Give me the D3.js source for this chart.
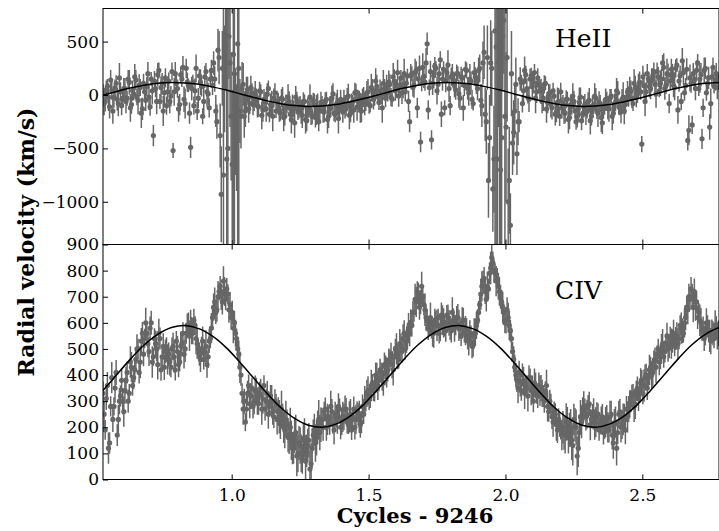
<!DOCTYPE html>
<html><head><meta charset="utf-8">
<script src="https://cdn.jsdelivr.net/npm/d3@7"></script>
<style>body{margin:0;background:#fff}svg{display:block}</style>
</head><body><svg id="c" width="719" height="531"></svg>
<script>
// Observation set A
const cyclesA = [
0.530,0.538,0.546,0.554,0.562,0.570,0.578,0.586,0.594,0.602,
0.610,0.618,0.626,0.634,0.642,0.650,0.658,0.666,0.674,0.682,
0.690,0.698,0.706,0.714,0.722,0.730,0.738,0.746,0.754,0.762,
0.770,0.778,0.786,0.794,0.802,0.810,0.818,0.826,0.834,0.842,
0.850,0.858,0.866,0.874,0.882,0.890,0.898,0.906,0.914,0.922,
0.930,0.938,0.946,0.954,0.962,0.970,0.978,0.986,0.994,1.002,
1.010,1.018,1.026,1.034,1.042,1.050,1.058,1.066,1.074,1.082,
1.090,1.098,1.106,1.114,1.122,1.130,1.138,1.146,1.154,1.162,
1.170,1.178,1.186,1.194,1.202,1.210,1.218,1.226,1.234,1.242,
1.250,1.258,1.266,1.274,1.282,1.290,1.298,1.306,1.314,1.322,
1.330,1.338,1.346,1.354,1.362,1.370,1.378,1.386,1.394,1.402,
1.410,1.418,1.426,1.434,1.442,1.450,1.458,1.466,1.474,1.482,
1.490,1.498,1.506,1.514,1.522,1.530,1.538,1.546,1.554,1.562,
1.570,1.578,1.586,1.594,1.602,1.610,1.618,1.626,1.634,1.642,
1.650,1.658,1.666,1.674,1.682,1.690,1.698,1.706,1.714,1.722,
1.730,1.738,1.746,1.754,1.762,1.770,1.778,1.786,1.794,1.802,
1.810,1.818,1.826,1.834,1.842,1.850,1.858,1.866,1.874,1.882,
1.890,1.898,1.906,1.914,1.922,1.930,1.938,1.946,1.954,1.962,
1.970,1.978,1.986,1.994,2.002,2.010,2.018,2.026,2.034,2.042,
2.050,2.058,2.066,2.074,2.082,2.090,2.098,2.106,2.114,2.122,
2.130,2.138,2.146,2.154,2.162,2.170,2.178,2.186,2.194,2.202,
2.210,2.218,2.226,2.234,2.242,2.250,2.258,2.266,2.274,2.282,
2.290,2.298,2.306,2.314,2.322,2.330,2.338,2.346,2.354,2.362,
2.370,2.378,2.386,2.394,2.402,2.410,2.418,2.426,2.434,2.442,
2.450,2.458,2.466,2.474,2.482,2.490,2.498,2.506,2.514,2.522,
2.530,2.538,2.546,2.554,2.562,2.570,2.578,2.586,2.594,2.602,
2.610,2.618,2.626,2.634,2.642,2.650,2.658,2.666,2.674,2.682,
2.690,2.698,2.706,2.714,2.722,2.730,2.738,2.746,2.754,2.762,
2.770,2.778];

const heIIA = [
20,-60,80,-110,40,-20,110,-80,30,-40,
60,-30,120,-90,10,140,-50,70,-130,30,
80,-20,150,-380,60,190,-60,110,20,-100,
130,-10,-520,200,60,-90,150,-40,250,90,
-490,120,40,-150,180,80,-60,220,10,150,
90,150,-250,350,-930,-750,450,-500,300,-650,
200,-400,250,-200,100,-150,50,-80,20,-40,
-20,-110,30,-140,-60,10,-180,-80,-30,-150,
-80,-170,-40,-200,-110,-60,-230,-130,-20,-160,
-100,-190,-60,-240,-130,-170,-50,-210,-110,-150,
-90,-160,-40,-200,-120,10,-180,-70,-140,-100,
-50,-130,-10,-170,-60,20,-110,-40,-150,0,
-60,30,-100,50,-20,80,-70,10,110,-30,
20,100,-40,130,60,-10,160,90,30,180,
-250,200,90,230,150,-440,260,120,480,70,
-420,180,250,100,330,150,-120,210,60,170,
140,50,200,-30,160,90,230,20,130,-80,
170,60,250,-100,400,-250,-800,300,-880,600,
-600,200,-400,700,-300,-1000,-1220,-450,-150,-550,
-250,120,40,190,-20,150,80,210,30,100,
60,-30,110,-70,20,-120,-10,-160,-60,30,
-80,-170,-40,-210,-100,-60,-250,-130,-20,-180,
-90,-150,-50,-200,-120,-30,-170,-80,-260,-110,
-60,-130,-10,-170,-70,20,-120,-40,-150,-20,
-30,40,-80,70,10,120,-460,90,30,150,
60,180,100,220,40,150,260,90,190,130,
200,70,280,130,-60,210,90,-425,160,-280,
140,230,60,190,-120,250,110,-300,170,80,
200,120];

const heIIErrA = [
80,95,70,110,85,100,75,120,90,65,
100,70,115,85,60,95,130,80,105,75,
90,120,65,100,80,110,70,95,125,85,
80,95,70,110,85,100,75,120,90,65,
100,70,115,85,60,95,130,80,105,75,
90,120,160,250,450,2200,400,1900,600,700,
1800,500,1900,300,200,150,120,100,90,110,
80,95,70,110,85,100,75,120,90,65,
100,70,115,85,60,95,130,80,105,75,
90,120,65,100,80,110,70,95,125,85,
80,95,70,110,85,100,75,120,90,65,
100,70,115,85,60,95,130,80,105,75,
90,120,65,100,80,110,70,95,125,85,
80,95,70,110,85,100,75,120,90,65,
100,70,115,85,60,95,130,80,105,75,
90,120,65,100,80,110,70,95,125,85,
80,95,70,110,85,100,75,120,90,65,
90,110,130,200,250,300,350,400,400,2200,
2000,1800,2000,500,700,500,300,300,250,200,
100,70,115,85,60,95,130,80,105,75,
90,120,65,100,80,110,70,95,125,85,
80,95,70,110,85,100,75,120,90,65,
100,70,115,85,60,95,130,80,105,75,
90,120,65,100,80,110,70,95,125,85,
80,95,70,110,85,100,75,120,90,65,
100,70,115,85,60,95,130,80,105,75,
90,120,65,100,80,110,70,95,125,85,
80,95,70,110,85,100,75,120,90,65,
100,70];

const civA = [
330,190,360,140,390,280,410,230,320,300,
340,410,330,430,390,460,500,450,560,540,
560,490,600,470,520,440,540,470,430,500,
480,430,510,420,490,450,520,480,560,590,
600,560,590,520,480,500,460,510,470,540,
620,680,650,720,700,760,690,710,670,640,
600,540,480,400,270,220,330,290,350,300,
340,290,350,310,270,330,280,300,240,290,
260,220,240,190,210,160,150,120,180,100,
130,80,160,110,150,60,170,140,200,180,
230,260,200,240,280,210,250,230,270,220,
240,270,210,250,230,200,260,240,220,250,
300,340,320,370,350,390,380,410,370,430,
420,460,440,470,500,460,510,540,500,550,
560,590,640,680,710,680,700,650,610,590,
580,560,600,620,580,610,590,630,600,570,
610,590,620,580,600,560,570,530,550,520,
560,610,670,740,770,690,730,810,830,790,
770,720,680,640,610,620,570,490,430,380,
410,340,380,360,320,390,350,370,330,360,
350,320,340,280,300,240,260,210,230,190,
200,170,220,190,150,230,200,120,240,260,
270,250,290,230,260,220,250,210,240,200,
230,190,250,140,220,180,260,210,240,270,
270,300,330,290,350,340,380,360,400,390,
430,410,460,480,450,500,470,520,500,540,
530,510,550,540,580,560,620,650,690,700,
720,680,640,600,580,560,590,550,570,540,
580,560];

const civErrA = [
45,38,52,41,60,35,48,55,40,50,
50,42,36,58,44,47,39,62,43,37,
40,55,46,34,51,57,42,38,49,45,
45,38,52,41,60,35,48,55,40,50,
50,42,36,58,44,47,39,62,43,37,
40,55,46,34,51,57,42,38,49,45,
45,38,52,41,60,35,48,55,40,50,
50,42,36,58,44,47,39,62,43,37,
55,65,50,70,58,62,75,60,68,72,
70,58,75,62,66,80,60,72,64,68,
45,38,52,41,60,35,48,55,40,50,
50,42,36,58,44,47,39,62,43,37,
40,55,46,34,51,57,42,38,49,45,
45,38,52,41,60,35,48,55,40,50,
50,42,36,58,44,47,39,62,43,37,
40,55,46,34,51,57,42,38,49,45,
45,38,52,41,60,35,48,55,40,50,
50,42,36,58,44,47,39,62,43,37,
40,55,46,34,51,57,42,38,49,45,
45,38,52,41,60,35,48,55,40,50,
50,42,36,58,44,47,39,62,43,37,
62,70,58,66,75,60,68,72,64,55,
40,55,46,34,51,57,42,38,49,45,
55,48,52,61,60,45,48,55,50,50,
50,42,36,58,44,47,39,62,43,37,
40,55,46,34,51,57,42,38,49,45,
45,38,52,41,60,35,48,55,40,50,
50,42,36,58,44,47,39,62,43,37,
45,50];

// Observation set B
const cyclesB = [
0.534,0.542,0.550,0.558,0.566,0.574,0.582,0.590,0.598,0.606,
0.614,0.622,0.630,0.638,0.646,0.654,0.662,0.670,0.678,0.686,
0.694,0.702,0.710,0.718,0.726,0.734,0.742,0.750,0.758,0.766,
0.774,0.782,0.790,0.798,0.806,0.814,0.822,0.830,0.838,0.846,
0.854,0.862,0.870,0.878,0.886,0.894,0.902,0.910,0.918,0.926,
0.934,0.942,0.950,0.958,0.966,0.974,0.982,0.990,0.998,1.006,
1.014,1.022,1.030,1.038,1.046,1.054,1.062,1.070,1.078,1.086,
1.094,1.102,1.110,1.118,1.126,1.134,1.142,1.150,1.158,1.166,
1.174,1.182,1.190,1.198,1.206,1.214,1.222,1.230,1.238,1.246,
1.254,1.262,1.270,1.278,1.286,1.294,1.302,1.310,1.318,1.326,
1.334,1.342,1.350,1.358,1.366,1.374,1.382,1.390,1.398,1.406,
1.414,1.422,1.430,1.438,1.446,1.454,1.462,1.470,1.478,1.486,
1.494,1.502,1.510,1.518,1.526,1.534,1.542,1.550,1.558,1.566,
1.574,1.582,1.590,1.598,1.606,1.614,1.622,1.630,1.638,1.646,
1.654,1.662,1.670,1.678,1.686,1.694,1.702,1.710,1.718,1.726,
1.734,1.742,1.750,1.758,1.766,1.774,1.782,1.790,1.798,1.806,
1.814,1.822,1.830,1.838,1.846,1.854,1.862,1.870,1.878,1.886,
1.894,1.902,1.910,1.918,1.926,1.934,1.942,1.950,1.958,1.966,
1.974,1.982,1.990,1.998,2.006,2.014,2.022,2.030,2.038,2.046,
2.054,2.062,2.070,2.078,2.086,2.094,2.102,2.110,2.118,2.126,
2.134,2.142,2.150,2.158,2.166,2.174,2.182,2.190,2.198,2.206,
2.214,2.222,2.230,2.238,2.246,2.254,2.262,2.270,2.278,2.286,
2.294,2.302,2.310,2.318,2.326,2.334,2.342,2.350,2.358,2.366,
2.374,2.382,2.390,2.398,2.406,2.414,2.422,2.430,2.438,2.446,
2.454,2.462,2.470,2.478,2.486,2.494,2.502,2.510,2.518,2.526,
2.534,2.542,2.550,2.558,2.566,2.574,2.582,2.590,2.598,2.606,
2.614,2.622,2.630,2.638,2.646,2.654,2.662,2.670,2.678,2.686,
2.694,2.702,2.710,2.718,2.726,2.734,2.742,2.750,2.758,2.766,
2.774];

const heIIB = [
-80,50,-20,140,-150,70,-40,160,-100,60,
-60,150,-120,40,170,-20,90,-170,110,-50,
200,-110,40,130,-60,230,70,-150,160,30,
-60,220,30,110,-130,190,260,-80,120,-170,
60,-100,250,-30,120,-200,170,30,-120,230,
300,-150,420,-380,250,150,-600,550,-200,380,
-250,480,-150,60,-200,20,-130,70,-90,10,
-100,40,-190,-40,-130,60,-90,-200,20,-60,
-140,-30,-210,-90,-20,-180,-100,-260,-60,-120,
-160,-60,-230,-120,-20,-200,-90,-140,-250,-70,
-150,-60,-230,-110,-30,-170,-90,-220,-40,-160,
-110,-20,-190,-80,-140,30,-60,-120,-30,-90,
20,-90,70,-40,130,-10,40,-120,60,90,
120,-20,170,40,210,90,20,200,110,-60,
180,70,210,-120,250,110,170,300,-140,220,
110,270,40,200,-180,240,130,280,-100,190,
90,200,10,170,-120,240,60,150,-40,210,
110,230,-50,300,-180,350,-400,250,-600,450,
300,-700,550,-200,350,-800,200,-350,100,-250,
150,-80,230,60,-40,180,120,-30,160,40,
-60,100,-130,10,-90,40,-180,-70,-200,-120,
-160,-40,-230,-90,-10,-150,-200,-70,-240,-110,
-170,-60,-240,-100,-10,-150,-70,-210,-130,-40,
-120,-30,-200,-80,40,-110,-160,-20,-90,30,
60,-40,110,-20,80,30,170,-60,200,80,
140,220,10,170,110,300,60,200,-80,240,
90,250,-140,180,320,20,240,-330,110,200,
60,300,150,-410,230,20,160,-80,260,140,
70];

const heIIErrB = [
110,85,130,95,120,75,105,140,90,100,
110,85,130,95,120,75,105,140,90,100,
110,85,130,95,120,75,105,140,90,100,
110,85,130,95,120,75,105,140,90,100,
110,85,130,95,120,75,105,140,90,100,
110,150,200,300,350,500,2100,400,600,1900,
500,2000,300,250,200,150,130,110,100,120,
110,85,130,95,120,75,105,140,90,100,
110,85,130,95,120,75,105,140,90,100,
110,85,130,95,120,75,105,140,90,100,
110,85,130,95,120,75,105,140,90,100,
110,85,130,95,120,75,105,140,90,100,
110,85,130,95,120,75,105,140,90,100,
110,85,130,95,120,75,105,140,90,100,
110,85,130,95,120,75,105,140,90,100,
110,85,130,95,120,75,105,140,90,100,
110,85,130,95,120,75,105,140,90,100,
100,120,150,200,250,300,400,350,500,2100,
600,2000,500,1900,600,500,400,300,250,220,
110,85,130,95,120,75,105,140,90,100,
110,85,130,95,120,75,105,140,90,100,
110,85,130,95,120,75,105,140,90,100,
110,85,130,95,120,75,105,140,90,100,
110,85,130,95,120,75,105,140,90,100,
110,85,130,95,120,75,105,140,90,100,
110,85,130,95,120,75,105,140,90,100,
110,85,130,95,120,75,105,140,90,100,
110,85,130,95,120,75,105,140,90,100,
110];

const civB = [
250,310,120,280,230,350,170,300,380,260,
380,300,450,360,420,500,410,530,480,600,
520,580,450,540,500,560,420,510,490,460,
450,500,470,530,440,510,560,500,590,550,
570,610,540,500,460,530,490,440,530,580,
660,640,700,740,680,720,730,650,620,580,
560,500,430,330,300,270,360,320,280,340,
300,330,270,360,300,250,320,260,300,230,
240,270,200,230,170,200,120,170,90,140,
100,150,70,130,40,120,190,160,230,210,
200,270,230,210,260,190,240,280,200,240,
270,220,240,190,270,230,250,210,280,300,
330,310,360,340,400,360,420,390,440,410,
450,480,420,500,470,520,490,560,530,580,
600,640,690,720,660,740,670,620,580,620,
560,610,590,560,630,600,570,620,580,640,
580,620,590,550,610,570,540,560,510,560,
590,640,710,760,720,740,790,850,800,760,
740,700,660,600,650,590,540,460,400,350,
370,400,330,350,390,340,300,360,320,340,
330,300,360,260,280,220,250,190,210,170,
180,220,160,200,130,210,90,180,220,280,
240,280,210,250,200,240,190,230,180,220,
200,240,170,210,120,250,200,230,190,240,
290,320,280,340,310,370,330,390,350,420,
400,450,430,500,470,520,490,550,510,520,
560,540,520,590,570,600,660,700,730,660,
660,620,610,570,540,600,570,530,560,590,
550];

const civErrB = [
52,44,60,39,48,56,42,50,46,58,
52,44,60,39,48,56,42,50,46,58,
52,44,60,39,48,56,42,50,46,58,
52,44,60,39,48,56,42,50,46,58,
52,44,60,39,48,56,42,50,46,58,
52,44,60,39,48,56,42,50,46,58,
52,44,60,39,48,56,42,50,46,58,
52,44,60,39,48,56,42,50,46,58,
64,70,60,72,66,75,62,68,78,65,
72,66,80,64,70,76,62,68,74,66,
52,44,60,39,48,56,42,50,46,58,
52,44,60,39,48,56,42,50,46,58,
52,44,60,39,48,56,42,50,46,58,
52,44,60,39,48,56,42,50,46,58,
52,44,60,39,48,56,42,50,46,58,
52,44,60,39,48,56,42,50,46,58,
52,44,60,39,48,56,42,50,46,58,
52,44,60,39,48,56,42,50,46,58,
52,44,60,39,48,56,42,50,46,58,
52,44,60,39,48,56,42,50,46,58,
52,44,60,39,48,56,42,50,46,58,
66,72,60,70,76,64,74,68,62,58,
52,44,60,39,48,56,42,50,46,58,
58,62,55,60,66,52,58,61,55,60,
52,44,60,39,48,56,42,50,46,58,
52,44,60,39,48,56,42,50,46,58,
52,44,60,39,48,56,42,50,46,58,
52,44,60,39,48,56,42,50,46,58,
52];

// Orbital fit curves
const modelCycles = [0.53,0.58,0.63,0.68,0.73,0.78,0.83,0.88,0.93,0.98,1.03,1.08,1.13,1.18,1.23,1.28,1.33,1.38,1.43,1.48,1.53,1.58,1.63,1.68,1.73,1.78,1.83,1.88,1.93,1.98,2.03,2.08,2.13,2.18,2.23,2.28,2.33,2.38,2.43,2.48,2.53,2.58,2.63,2.68,2.73,2.78];
const heIIModel = [-2,33,65,91,109,117,113,100,76,46,12,-23,-55,-81,-99,-107,-103,-90,-66,-36,
-2,33,65,91,109,117,113,100,76,46,12,-23,-55,-81,-99,-107,-103,-90,-66,-36,
-2,33,65,91,109,117];
const civModel = [341,401,461,515,556,582,590,578,549,505,449,389,329,275,234,208,200,212,241,285,
341,401,461,515,556,582,590,578,549,505,449,389,329,275,234,208,200,212,241,285,
341,401,461,515,556,582];

const xTicks = [1.0,1.5,2.0,2.5];
const heIITicks = [-1000,-500,0,500];
const civTicks = [0,100,200,300,400,500,600,700,800,900];
const lineNames = ["HeII","CIV"];

const L=103, R=719, T=8.5, M=244.5, B=479.5;
const svg = d3.select("#c");
const x = d3.scaleLinear().domain([0.53,2.78]).range([L,R]);
const yTop = d3.scaleLinear().domain([-1400,810]).range([M,T]);
const yBot = d3.scaleLinear().domain([0,900]).range([B,M]);
const FONT = "'DejaVu Serif', serif";
const PT = "#666666";

function panel(id, y, sets, model, ticks, name, nameY, top, bottom, showX) {
  svg.append("defs").append("clipPath").attr("id", id).append("rect")
    .attr("x", L).attr("y", top).attr("width", R - L).attr("height", bottom - top);
  const data = [];
  sets.forEach(([cs, vs, es]) => cs.forEach((c, i) => data.push({c, v: vs[i], e: es[i]})));
  data.sort((a, b) => a.c - b.c);
  const g = svg.append("g").attr("clip-path", `url(#${id})`);
  g.selectAll("line.eb").data(data).join("line").attr("class","eb")
    .attr("x1", d => x(d.c)).attr("x2", d => x(d.c))
    .attr("y1", d => y(d.v - d.e)).attr("y2", d => y(d.v + d.e))
    .attr("stroke", PT).attr("stroke-width", 1.5);
  g.selectAll("circle").data(data).join("circle")
    .attr("cx", d => x(d.c)).attr("cy", d => y(d.v)).attr("r", 2.6)
    .attr("fill", PT);
  const md = modelCycles.map((c, i) => [c, model[i]]);
  g.append("path").datum(md)
    .attr("d", d3.line().x(d => x(d[0])).y(d => y(d[1])).curve(d3.curveCatmullRom))
    .attr("fill", "none").attr("stroke", "#000").attr("stroke-width", 1.5);

  svg.append("rect").attr("x", L).attr("y", top).attr("width", R - L).attr("height", bottom - top)
    .attr("fill", "none").attr("stroke", "#000").attr("stroke-width", 1);

  const ya = svg.append("g").attr("transform", `translate(${L},0)`)
    .call(d3.axisLeft(y).tickValues(ticks).tickSize(-5).tickPadding(4).tickFormat(d3.format("d")));
  ya.select(".domain").remove();
  ya.selectAll("text").attr("font-family", FONT).attr("font-size", 17).attr("fill", "#000");
  ya.selectAll("line").attr("stroke", "#000");

  const xt = svg.append("g").attr("transform", `translate(0,${top})`)
    .call(d3.axisTop(x).tickValues(xTicks).tickSize(-5).tickFormat(""));
  xt.select(".domain").remove();
  const xb = svg.append("g").attr("transform", `translate(0,${bottom})`)
    .call(d3.axisBottom(x).tickValues(xTicks).tickSize(-5).tickPadding(9)
      .tickFormat(showX ? d3.format(".1f") : ""));
  xb.select(".domain").remove();
  xb.selectAll("text").attr("font-family", FONT).attr("font-size", 17).attr("fill", "#000");

  svg.append("text").attr("x", 555).attr("y", nameY)
    .attr("font-family", FONT).attr("font-size", 25).attr("fill", "#000").text(name);
}

panel("clipTop", yTop, [[cyclesA, heIIA, heIIErrA], [cyclesB, heIIB, heIIErrB]],
  heIIModel, heIITicks, lineNames[0], 47, T, M, false);
panel("clipBot", yBot, [[cyclesA, civA, civErrA], [cyclesB, civB, civErrB]],
  civModel, civTicks, lineNames[1], 299, M, B, true);

svg.append("text").attr("transform", "translate(34,242) rotate(-90)")
  .attr("text-anchor", "middle").attr("font-family", FONT).attr("font-weight", "bold")
  .attr("font-size", 22).attr("fill", "#000").text("Radial velocity (km/s)");
svg.append("text").attr("x", 415).attr("y", 523)
  .attr("text-anchor", "middle").attr("font-family", FONT).attr("font-weight", "bold")
  .attr("font-size", 21).attr("fill", "#000").text("Cycles - 9246");
</script></body></html>
